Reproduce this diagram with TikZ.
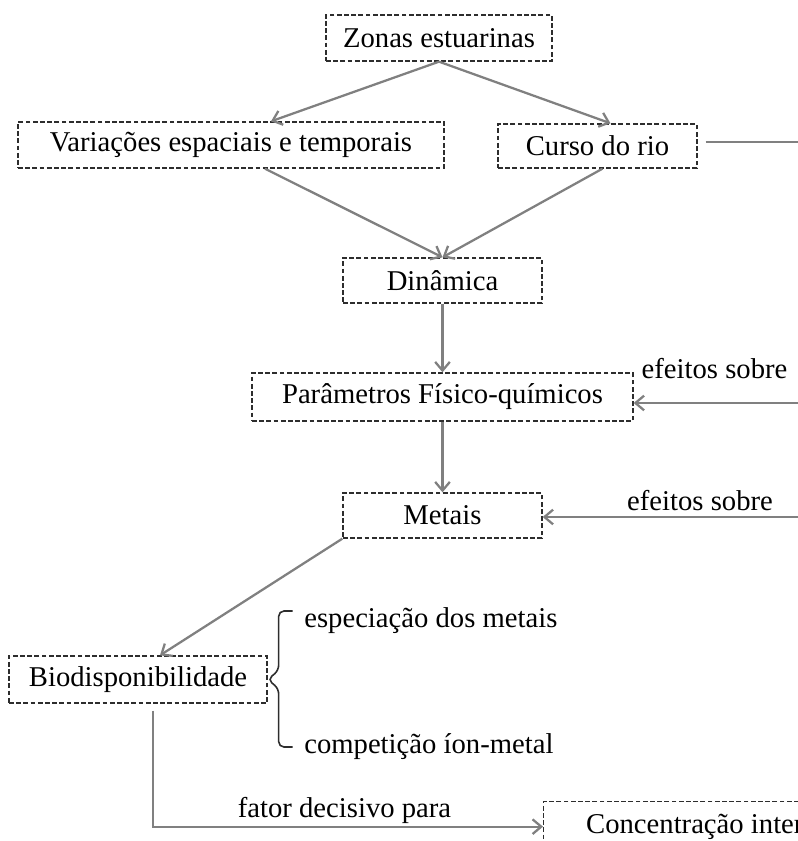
\documentclass[tikz,border=0pt]{standalone}
\usepackage{fontspec}
\setmainfont{Liberation Serif}
\definecolor{LineGray}{RGB}{128, 128, 128}
\definecolor{DashGray}{RGB}{45, 45, 45}
\usetikzlibrary{arrows.meta, positioning, calc}

\begin{document}
\begin{tikzpicture}[x=0.75pt, y=-0.75pt,
        font=\fontsize{21.5}{26}\selectfont,
        box/.style={rectangle, draw=DashGray, line width=1pt, dash pattern=on 3.6pt off 1.8pt, inner sep=0pt, minimum height=34.5pt, align=center},
        arrow/.style={draw=LineGray, line width=1.7pt, -{Straight Barb[length=6.5pt, width=11pt]}},
        line/.style={draw=LineGray, line width=1.7pt},
        brace/.style={draw=DashGray, line width=1.2pt, rounded corners=4pt},
        lbl/.style={anchor=base}
    ]
        \useasboundingbox (0,0) rectangle (798,841);
        \clip (0,0) rectangle (798,841);

        \node[box, minimum width=169.5pt] (zonas) at (439,38) {Zonas estuarinas};
        \node[box, minimum width=319.5pt] (var) at (231,145) {Variações espaciais e temporais};
        \node[box, minimum width=149.25pt, minimum height=33pt] (curso) at (597.5,146) {Curso do rio};
        \node[box, minimum width=149.25pt, minimum height=33.75pt] (dinamica) at (442.5,280.5) {Dinâmica};
        \node[box, minimum width=285.75pt, minimum height=36pt] (param) at (442.5,397) {Parâmetros Físico-químicos};
        \node[box, minimum width=149.25pt, minimum height=33.75pt] (metais) at (442.5,515.5) {Metais};
        \node[box, minimum width=193.5pt, minimum height=35.25pt] (bio) at (138,679.5) {Biodisponibilidade};
        \node[box, minimum width=247pt, minimum height=37.5pt, anchor=north west] (conc) at (543,801) {Concentração interna};

        \node[lbl, anchor=base west] (espec) at (299.6,627) {especiação dos metais};
        \node[lbl, anchor=base west] (compet) at (299.6,753) {competição íon-metal};
        \node[lbl] (efeitoA) at (714.5,378) {efeitos sobre};
        \node[lbl] (efeitoB) at (700,510) {efeitos sobre};
        \node[lbl] (fator) at (344.5,817) {fator decisivo para};

        \coordinate (rioR) at (830,142);
        \coordinate (paramR) at (830,403);
        \coordinate (metaisR) at (830,517);

        \draw[arrow] (zonas.south) -- ($(var.north)+(40,0)$);
        \draw[arrow] (zonas.south) -- ($(curso.north)+(13,0)$);
        \draw[arrow] ($(var.south)+(34,0)$) -- (dinamica.north);
        \draw[arrow] ($(curso.south)+(5,0)$) -- (dinamica.north);
        \draw[arrow] (dinamica) -- (param);
        \draw[arrow] (param) -- (metais);
        \draw[arrow] (metais.south west) -- ($(bio.north)+(22,0)$);
        \draw[arrow] ($(bio.south)+(15,7)$) |- (conc.west);

        \draw[line] ($(curso.east)+(8,-4)$) -- (rioR);
        \draw[arrow] (paramR) -- (paramR -| param.east);
        \draw[arrow] (metaisR) -- (metaisR -| metais.east);

        \draw[brace] ($(espec.base west)+(-7,-16)$) -| ($(bio.east)+(11,-9)$) -- (bio.east)
            -- ($(bio.east)+(11,9)$) |- ($(compet.base west)+(-7,-6)$);
    \end{tikzpicture}
\end{document}
